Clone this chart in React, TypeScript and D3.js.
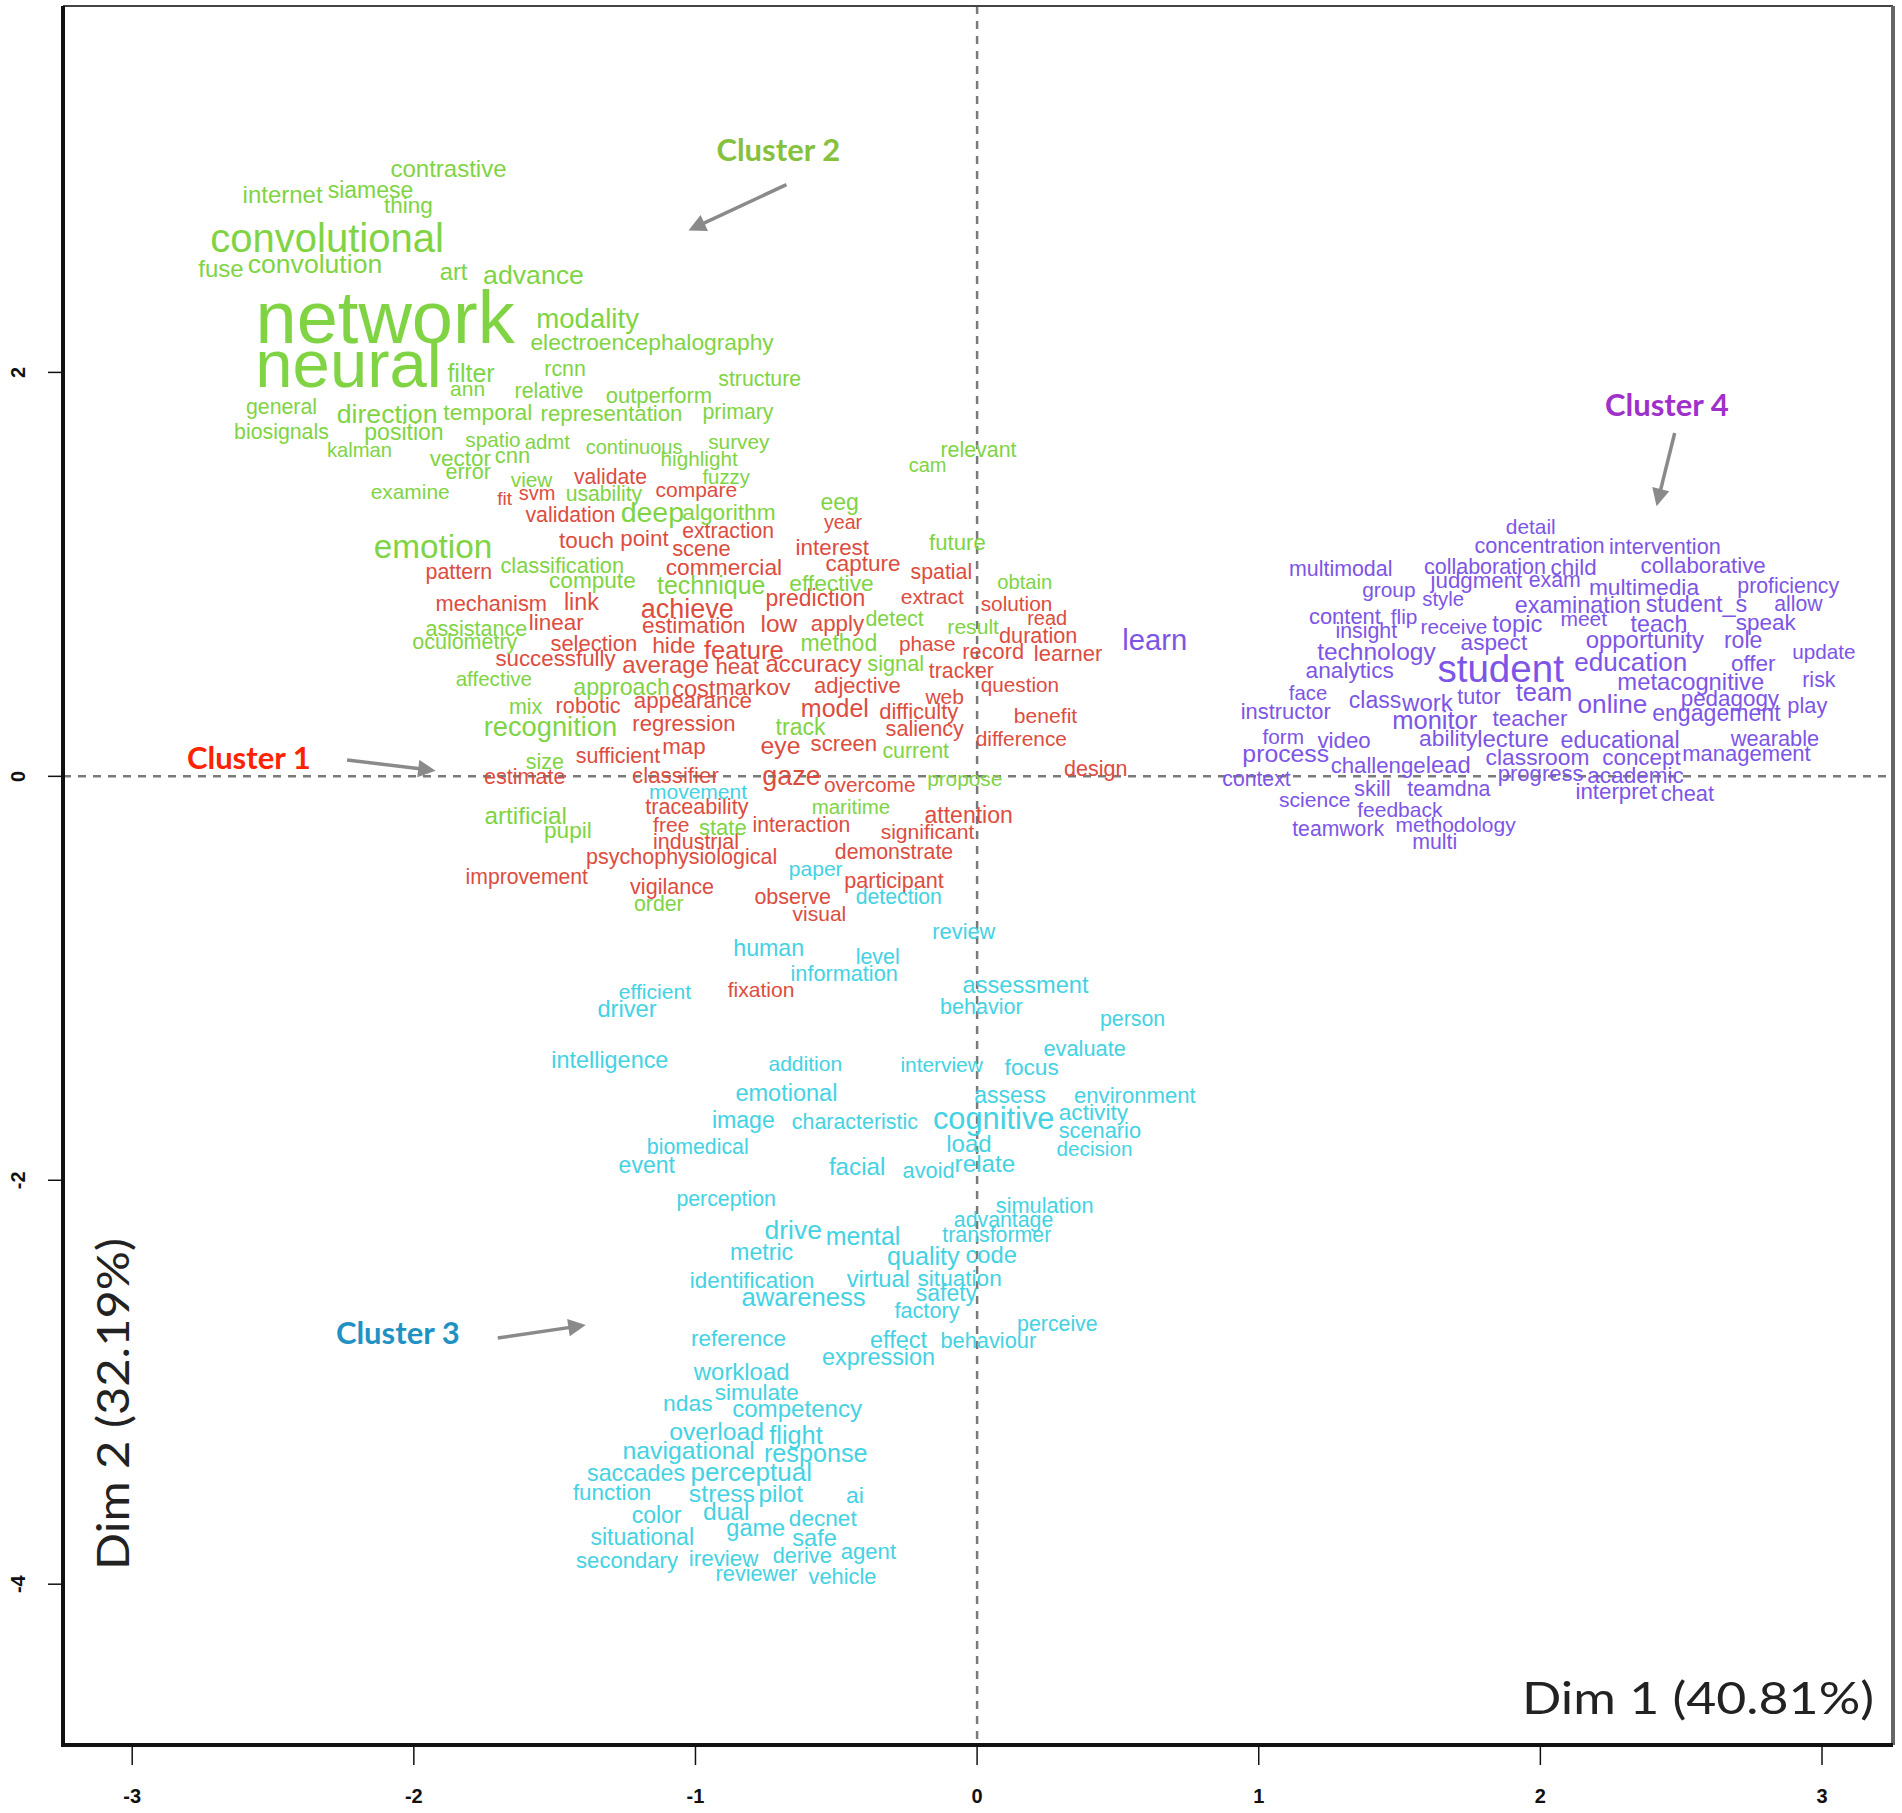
import React from 'react';
import * as d3 from 'd3';

type Word = [string, number, number, number]; // word, dim1, dim2, cex

// Cluster 2 (green)
const cluster2Words: Word[] = [
  ['contrastive', -1.877, 3.010, 1.2], ['internet', -2.466, 2.878, 1.2], ['siamese', -2.154, 2.902, 1.15],
  ['thing', -2.019, 2.828, 1.125], ['convolutional', -2.308, 2.663, 2.0], ['fuse', -2.685, 2.515, 1.2],
  ['convolution', -2.351, 2.540, 1.33], ['art', -1.859, 2.498, 1.185], ['advance', -1.575, 2.482, 1.335],
  ['network', -2.102, 2.275, 3.7], ['neural', -2.232, 2.045, 3.35], ['modality', -1.383, 2.267, 1.38],
  ['electroencephalography', -1.154, 2.152, 1.14], ['filter', -1.797, 1.995, 1.25], ['ann', -1.809, 1.921, 1.05],
  ['rcnn', -1.463, 2.020, 1.065], ['relative', -1.520, 1.912, 1.07], ['outperform', -1.130, 1.888, 1.1],
  ['structure', -0.772, 1.970, 1.065], ['general', -2.470, 1.830, 1.065], ['direction', -2.095, 1.797, 1.335],
  ['temporal', -1.737, 1.805, 1.145], ['representation', -1.298, 1.797, 1.11], ['primary', -0.849, 1.805, 1.065],
  ['biosignals', -2.470, 1.706, 1.065], ['position', -2.035, 1.706, 1.15], ['kalman', -2.193, 1.615, 1.01],
  ['spatio', -1.719, 1.665, 1.035], ['admt', -1.526, 1.657, 1.02], ['continuous', -1.218, 1.632, 1.0],
  ['survey', -0.846, 1.657, 1.04], ['highlight', -0.987, 1.574, 1.035], ['vector', -1.835, 1.574, 1.125],
  ['cnn', -1.650, 1.591, 1.1], ['error', -1.807, 1.508, 1.075], ['fuzzy', -0.891, 1.483, 1.015],
  ['view', -1.582, 1.467, 1.04], ['examine', -2.013, 1.409, 1.045], ['usability', -1.325, 1.401, 1.06],
  ['relevant', 0.005, 1.620, 1.07], ['cam', -0.176, 1.543, 1.0], ['eeg', -0.488, 1.359, 1.15],
  ['deep', -1.153, 1.310, 1.425], ['algorithm', -0.881, 1.310, 1.135], ['future', -0.070, 1.161, 1.11],
  ['emotion', -1.932, 1.137, 1.665], ['classification', -1.473, 1.046, 1.09], ['compute', -1.366, 0.972, 1.13],
  ['technique', -0.944, 0.947, 1.25], ['effective', -0.517, 0.955, 1.14], ['obtain', 0.169, 0.963, 1.01],
  ['assistance', -1.778, 0.733, 1.075], ['oculometry', -1.819, 0.666, 1.075], ['detect', -0.293, 0.782, 1.07],
  ['result', -0.014, 0.741, 1.055], ['method', -0.491, 0.658, 1.15], ['signal', -0.289, 0.559, 1.085],
  ['affective', -1.716, 0.485, 1.03], ['approach', -1.262, 0.444, 1.16], ['mix', -1.603, 0.345, 1.07],
  ['recognition', -1.515, 0.246, 1.365], ['track', -0.627, 0.246, 1.15], ['current', -0.218, 0.130, 1.07],
  ['size', -1.535, 0.072, 1.075], ['propose', -0.044, -0.010, 1.04], ['maritime', -0.448, -0.150, 1.025],
  ['artificial', -1.603, -0.192, 1.215], ['pupil', -1.453, -0.266, 1.13], ['state', -0.903, -0.250, 1.1],
  ['order', -1.130, -0.629, 1.065],
];

// Cluster 1 (red)
const cluster1Words: Word[] = [
  ['validate', -1.302, 1.483, 1.06], ['fit', -1.678, 1.376, 0.95], ['svm', -1.562, 1.401, 1.0],
  ['compare', -0.997, 1.417, 1.05], ['validation', -1.444, 1.294, 1.065], ['year', -0.476, 1.260, 0.985],
  ['touch', -1.387, 1.170, 1.125], ['point', -1.181, 1.178, 1.115], ['extraction', -0.884, 1.219, 1.06],
  ['scene', -0.979, 1.129, 1.095], ['interest', -0.514, 1.137, 1.12], ['pattern', -1.840, 1.013, 1.07],
  ['commercial', -0.899, 1.038, 1.14], ['capture', -0.405, 1.054, 1.125], ['spatial', -0.127, 1.013, 1.065],
  ['mechanism', -1.725, 0.856, 1.09], ['link', -1.405, 0.864, 1.165], ['achieve', -1.029, 0.832, 1.35],
  ['prediction', -0.574, 0.881, 1.15], ['extract', -0.159, 0.889, 1.055], ['solution', 0.140, 0.856, 1.04],
  ['read', 0.249, 0.782, 1.0], ['linear', -1.494, 0.765, 1.125], ['estimation', -1.006, 0.749, 1.135],
  ['low', -0.704, 0.757, 1.225], ['apply', -0.496, 0.757, 1.115], ['duration', 0.217, 0.700, 1.085],
  ['selection', -1.361, 0.658, 1.1], ['hide', -1.077, 0.650, 1.145], ['feature', -0.828, 0.625, 1.285],
  ['phase', -0.177, 0.658, 1.04], ['record', 0.057, 0.617, 1.09], ['learner', 0.323, 0.609, 1.1],
  ['successfully', -1.497, 0.584, 1.115], ['average', -1.106, 0.551, 1.2], ['heat', -0.852, 0.543, 1.115],
  ['accuracy', -0.581, 0.559, 1.2], ['tracker', -0.056, 0.526, 1.065], ['cost', -1.006, 0.436, 1.18],
  ['markov', -0.796, 0.444, 1.145], ['adjective', -0.425, 0.452, 1.1], ['question', 0.152, 0.452, 1.035],
  ['web', -0.115, 0.394, 1.05], ['robotic', -1.381, 0.353, 1.085], ['appearance', -1.009, 0.378, 1.12],
  ['model', -0.505, 0.337, 1.25], ['difficulty', -0.207, 0.320, 1.1], ['benefit', 0.243, 0.303, 1.055],
  ['regression', -1.041, 0.262, 1.105], ['saliency', -0.186, 0.238, 1.085], ['eye', -0.698, 0.155, 1.24],
  ['screen', -0.473, 0.163, 1.11], ['difference', 0.157, 0.188, 1.045], ['sufficient', -1.275, 0.105, 1.075],
  ['map', -1.041, 0.147, 1.115], ['estimate', -1.606, -0.002, 1.08], ['classifier', -1.071, 0.006, 1.115],
  ['gaze', -0.659, 0.006, 1.345], ['overcome', -0.381, -0.043, 1.045], ['design', 0.421, 0.040, 1.075],
  ['traceability', -0.995, -0.150, 1.08], ['free', -1.086, -0.241, 1.055], ['interaction', -0.624, -0.241, 1.06],
  ['attention', -0.030, -0.192, 1.15], ['significant', -0.176, -0.274, 1.055], ['industrial', -0.998, -0.324, 1.075],
  ['psychophysiological', -1.049, -0.398, 1.075], ['demonstrate', -0.295, -0.373, 1.065],
  ['improvement', -1.599, -0.497, 1.06], ['participant', -0.295, -0.513, 1.08], ['vigilance', -1.083, -0.546, 1.08],
  ['observe', -0.655, -0.596, 1.075], ['visual', -0.560, -0.678, 1.05], ['fixation', -0.767, -1.058, 1.055],
];

// Cluster 3 (cyan)
const cluster3Words: Word[] = [
  ['movement', -0.991, -0.076, 1.05], ['paper', -0.573, -0.455, 1.05], ['detection', -0.278, -0.596, 1.06],
  ['review', -0.047, -0.769, 1.09], ['human', -0.740, -0.851, 1.16], ['level', -0.353, -0.893, 1.07],
  ['information', -0.472, -0.975, 1.085], ['efficient', -1.144, -1.066, 1.055], ['driver', -1.243, -1.149, 1.185],
  ['assessment', 0.172, -1.033, 1.18], ['behavior', 0.015, -1.141, 1.075], ['person', 0.552, -1.198, 1.065],
  ['evaluate', 0.382, -1.347, 1.09], ['intelligence', -1.304, -1.404, 1.17], ['addition', -0.610, -1.421, 1.05],
  ['interview', -0.126, -1.429, 1.045], ['focus', 0.194, -1.438, 1.135], ['emotional', -0.677, -1.569, 1.175],
  ['assess', 0.117, -1.578, 1.15], ['environment', 0.560, -1.578, 1.105], ['image', -0.830, -1.701, 1.155],
  ['characteristic', -0.434, -1.710, 1.07], ['cognitive', 0.059, -1.693, 1.54], ['activity', 0.413, -1.660, 1.135],
  ['scenario', 0.436, -1.751, 1.09], ['biomedical', -0.992, -1.834, 1.065], ['load', -0.029, -1.817, 1.2],
  ['decision', 0.417, -1.842, 1.035], ['event', -1.173, -1.924, 1.15], ['facial', -0.426, -1.933, 1.21],
  ['avoid', -0.172, -1.949, 1.09], ['relate', 0.028, -1.916, 1.215], ['perception', -0.891, -2.089, 1.065],
  ['simulation', 0.240, -2.122, 1.085], ['advantage', 0.094, -2.196, 1.065], ['drive', -0.653, -2.246, 1.325],
  ['mental', -0.405, -2.279, 1.245], ['transformer', 0.070, -2.271, 1.065], ['metric', -0.765, -2.353, 1.16],
  ['quality', -0.191, -2.378, 1.26], ['code', 0.050, -2.370, 1.19], ['identification', -0.799, -2.494, 1.12],
  ['virtual', -0.351, -2.485, 1.185], ['situation', -0.062, -2.485, 1.13], ['awareness', -0.616, -2.576, 1.285],
  ['safety', -0.109, -2.559, 1.15], ['factory', -0.178, -2.642, 1.085], ['perceive', 0.285, -2.708, 1.065],
  ['reference', -0.847, -2.782, 1.125], ['effect', -0.279, -2.791, 1.175], ['behaviour', 0.040, -2.791, 1.09],
  ['expression', -0.350, -2.873, 1.17], ['workload', -0.836, -2.948, 1.195], ['simulate', -0.782, -3.047, 1.13],
  ['ndas', -1.027, -3.104, 1.145], ['competency', -0.639, -3.129, 1.205], ['overload', -0.925, -3.244, 1.235],
  ['flight', -0.643, -3.261, 1.265], ['navigational', -1.024, -3.335, 1.24], ['response', -0.573, -3.351, 1.26],
  ['saccades', -1.211, -3.451, 1.16], ['perceptual', -0.802, -3.443, 1.3], ['function', -1.296, -3.542, 1.12],
  ['stress', -0.906, -3.550, 1.24], ['pilot', -0.697, -3.550, 1.215], ['ai', -0.434, -3.558, 1.145],
  ['color', -1.138, -3.657, 1.15], ['dual', -0.891, -3.641, 1.23], ['decnet', -0.548, -3.674, 1.13],
  ['game', -0.786, -3.723, 1.175], ['situational', -1.189, -3.764, 1.15], ['safe', -0.577, -3.772, 1.18],
  ['agent', -0.386, -3.839, 1.105], ['secondary', -1.243, -3.880, 1.105], ['ireview', -0.900, -3.871, 1.12],
  ['derive', -0.621, -3.855, 1.085], ['reviewer', -0.783, -3.946, 1.085], ['vehicle', -0.478, -3.962, 1.09],
];

// Cluster 4 (purple)
const cluster4Words: Word[] = [
  ['learn', 0.631, 0.675, 1.46], ['detail', 1.966, 1.236, 1.045], ['concentration', 1.997, 1.141, 1.085],
  ['intervention', 2.442, 1.137, 1.08], ['multimodal', 1.291, 1.030, 1.07], ['collaboration', 1.803, 1.038, 1.075],
  ['child', 2.118, 1.038, 1.12], ['collaborative', 2.578, 1.046, 1.115], ['group', 1.462, 0.922, 1.045],
  ['judgment', 1.773, 0.972, 1.115], ['exam', 2.051, 0.972, 1.065], ['multimedia', 2.368, 0.939, 1.14],
  ['proficiency', 2.880, 0.947, 1.065], ['style', 1.655, 0.881, 1.015], ['examination', 2.133, 0.848, 1.17],
  ['student_s', 2.554, 0.856, 1.17], ['allow', 2.916, 0.856, 1.06], ['content', 1.306, 0.790, 1.095],
  ['flip', 1.516, 0.790, 1.045], ['insight', 1.382, 0.724, 1.065], ['receive', 1.693, 0.741, 1.035],
  ['topic', 1.918, 0.757, 1.185], ['meet', 2.154, 0.782, 1.05], ['teach', 2.421, 0.757, 1.16],
  ['speak', 2.800, 0.765, 1.125], ['aspect', 1.835, 0.666, 1.13], ['technology', 1.418, 0.617, 1.225],
  ['opportunity', 2.371, 0.675, 1.195], ['role', 2.720, 0.675, 1.15], ['update', 3.007, 0.617, 1.035],
  ['analytics', 1.323, 0.526, 1.135], ['student', 1.859, 0.535, 1.93], ['education', 2.321, 0.567, 1.305],
  ['offer', 2.756, 0.559, 1.125], ['metacognitive', 2.534, 0.468, 1.19], ['risk', 2.989, 0.477, 1.07],
  ['face', 1.175, 0.411, 1.015], ['class', 1.413, 0.378, 1.15], ['work', 1.599, 0.363, 1.2],
  ['tutor', 1.782, 0.394, 1.08], ['team', 2.013, 0.419, 1.275], ['online', 2.256, 0.361, 1.31],
  ['pedagogy', 2.673, 0.386, 1.12], ['engagement', 2.625, 0.312, 1.155], ['play', 2.948, 0.353, 1.09],
  ['instructor', 1.096, 0.320, 1.095], ['monitor', 1.625, 0.279, 1.275], ['teacher', 1.963, 0.287, 1.125],
  ['form', 1.087, 0.196, 1.04], ['video', 1.303, 0.180, 1.115], ['ability', 1.673, 0.188, 1.14],
  ['lecture', 1.903, 0.188, 1.195], ['educational', 2.283, 0.180, 1.165], ['wearable', 2.833, 0.188, 1.09],
  ['process', 1.096, 0.114, 1.24], ['challenge', 1.424, 0.056, 1.11], ['lead', 1.673, 0.056, 1.19],
  ['classroom', 1.990, 0.097, 1.14], ['concept', 2.359, 0.097, 1.12], ['management', 2.732, 0.114, 1.1],
  ['context', 0.992, -0.010, 1.06], ['progress', 2.001, 0.015, 1.105], ['academic', 2.338, 0.006, 1.13],
  ['skill', 1.403, -0.059, 1.1], ['teamdna', 1.675, -0.059, 1.07], ['science', 1.199, -0.117, 1.055],
  ['interpret', 2.270, -0.076, 1.115], ['cheat', 2.522, -0.084, 1.09], ['feedback', 1.501, -0.167, 1.05],
  ['teamwork', 1.282, -0.257, 1.06], ['methodology', 1.699, -0.241, 1.05], ['multi', 1.625, -0.324, 1.065],
];

// Cluster annotations: label, dim1, dim2
const clusterLabels: [string, number, number][] = [
  ['Cluster 1', -2.586, 0.089], ['Cluster 2', -0.706, 3.099],
  ['Cluster 3', -2.057, -2.756], ['Cluster 4', 2.449, 1.838],
];
// Arrows: x1, y1, x2, y2 (data units)
const arrows: [number, number, number, number][] = [
  [-2.237, 0.081, -1.941, 0.031],
  [-0.677, 2.930, -1.008, 2.714],
  [-1.702, -2.781, -1.408, -2.721],
  [2.477, 1.700, 2.417, 1.363],
];

const xTicks = [-3, -2, -1, 0, 1, 2, 3];
const yTicks = [-4, -2, 0, 2];
const xAxisTitle = 'Dim 1 (40.81%)';
const yAxisTitle = 'Dim 2 (32.19%)';

const WIDTH = 1902;
const HEIGHT = 1813;
const box = { left: 63, right: 1893, top: 6, bottom: 1745 };

const wordColors = ['#dc4d40', '#80d444', '#44d2e3', '#7d55e6'];
const labelColors = ['#ff2200', '#86c13d', '#1f92c2', '#9f31c9'];
const BASE = 20;
const wordFont = '"Liberation Sans", Arial, Helvetica, sans-serif';
const labelFont = 'Lato, "Open Sans", sans-serif';

export default function App() {
  const x = d3.scaleLinear().domain([-3, 3]).range([132.2, 1822]);
  const y = d3.scaleLinear().domain([-4, 2]).range([1584.2, 372.4]);
  const groups: Word[][] = [cluster1Words, cluster2Words, cluster3Words, cluster4Words];

  return (
    <svg width={WIDTH} height={HEIGHT} style={{ position: 'absolute', left: 0, top: 0, background: '#fff' }}>
      <defs>
        <marker id="arrowhead" viewBox="0 0 10 10" refX="7" refY="5" markerWidth="5.5" markerHeight="5" orient="auto">
          <path d="M0,0 L10,5 L0,10 z" fill="#8a8a8a" />
        </marker>
      </defs>
      <rect x={0} y={0} width={WIDTH} height={HEIGHT} fill="#fff" />
      {/* reference lines */}
      <line x1={box.left} x2={box.right} y1={y(0)} y2={y(0)} stroke="#7a7a7a" strokeWidth={2.5} strokeDasharray="8 7" />
      <line x1={x(0)} x2={x(0)} y1={box.top} y2={box.bottom} stroke="#7a7a7a" strokeWidth={2.5} strokeDasharray="8 7" />

      {/* words */}
      {groups.map((g, gi) => (
        <g key={gi} fill={wordColors[gi]} fontFamily={wordFont} textAnchor="middle">
          {g.map(([w, dx, dy, cex], i) => (
            <text key={i} x={x(dx)} y={y(dy)} dy="0.35em" fontSize={cex * BASE}>{w}</text>
          ))}
        </g>
      ))}

      {/* arrows */}
      {arrows.map(([x1, y1, x2, y2], i) => (
        <line key={i} x1={x(x1)} y1={y(y1)} x2={x(x2)} y2={y(y2)} stroke="#8a8a8a" strokeWidth={3.5} markerEnd="url(#arrowhead)" />
      ))}
      {/* cluster labels */}
      {clusterLabels.map(([t, dx, dy], i) => (
        <text key={t} x={x(dx)} y={y(dy)} dy="0.35em" textAnchor="middle" fontFamily={labelFont} fontWeight={700} fontSize={31} fill={labelColors[i]}>{t}</text>
      ))}

      {/* frame */}
      <line x1={box.left} x2={box.right} y1={box.top} y2={box.top} stroke="#444" strokeWidth={2} />
      <line x1={box.right} x2={box.right} y1={box.top} y2={box.bottom} stroke="#666" strokeWidth={4} />
      <line x1={box.left} x2={box.left} y1={box.top} y2={box.bottom + 2} stroke="#111" strokeWidth={4} />
      <line x1={box.left} x2={box.right} y1={box.bottom} y2={box.bottom} stroke="#111" strokeWidth={4} />

      {/* x axis ticks */}
      {xTicks.map((t) => (
        <g key={'x' + t}>
          <line x1={x(t)} x2={x(t)} y1={box.bottom} y2={box.bottom + 20} stroke="#111" strokeWidth={1.5} />
          <text x={x(t)} y={1803} textAnchor="middle" fontFamily={wordFont} fontWeight={700} fontSize={20} fill="#111">{t}</text>
        </g>
      ))}
      {/* y axis ticks */}
      {yTicks.map((t) => (
        <g key={'y' + t}>
          <line x1={box.left - 15} x2={box.left} y1={y(t)} y2={y(t)} stroke="#111" strokeWidth={1.5} />
          <text transform={`translate(25,${y(t)}) rotate(-90)`} textAnchor="middle" fontFamily={wordFont} fontWeight={700} fontSize={20} fill="#111">{t}</text>
        </g>
      ))}

      {/* axis titles */}
      <text x={1698} y={1714} textAnchor="middle" fontFamily={labelFont} fontSize={45} fill="#222" textLength={352} lengthAdjust="spacingAndGlyphs">{xAxisTitle}</text>
      <text transform="translate(129,1404) rotate(-90)" textAnchor="middle" fontFamily={labelFont} fontSize={45} fill="#222" textLength={332} lengthAdjust="spacingAndGlyphs">{yAxisTitle}</text>
    </svg>
  );
}
